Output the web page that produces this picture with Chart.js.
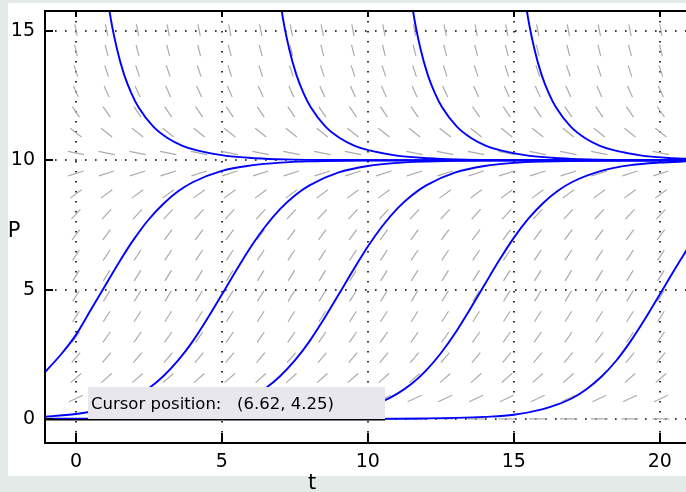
<!DOCTYPE html>
<html><head><meta charset="utf-8">
<script src="https://cdn.jsdelivr.net/npm/chart.js@4.4.1/dist/chart.umd.min.js"></script>
<style>
html,body{margin:0;padding:0;background:#e3eae8;overflow:hidden}
#wrap{position:relative;width:686px;height:492px}
canvas{display:block}
</style></head><body>
<div id="wrap"><canvas id="c" width="686" height="492"></canvas></div>
<script>
// ---- data ----
const xTicks = [0, 5, 10, 15, 20];
const yTicks = [0, 5, 10, 15];
const xRange = [-1.06, 20.9];
const yRange = [-0.93, 15.77];
const xLabel = 't';
const yLabel = 'P';
const cursorText = 'Cursor position:';
const cursorValue = '(6.62, 4.25)';

// direction field grid (t columns, P rows) and the slope seen on each row
const fieldT = [0, 1.05, 2.11, 3.16, 4.22, 5.27, 6.33, 7.38, 8.44, 9.49, 10.55, 11.6, 12.65, 13.71, 14.76, 15.82, 16.87, 17.93, 18.98, 20.04];
const fieldP = [0, 0.79, 1.58, 2.37, 3.16, 3.96, 4.75, 5.54, 6.33, 7.12, 7.91, 8.7, 9.49, 10.28, 11.07, 11.87, 12.66, 13.45, 14.24, 15.03];
const fieldSlope = [0, 0.54, 0.99, 1.34, 1.6, 1.77, 1.85, 1.83, 1.72, 1.52, 1.22, 0.84, 0.36, -0.22, -0.88, -1.64, -2.49, -3.43, -4.47, -5.59];

// solution curves [t, P]
const riseA = [[-1.2,1.64],[-0.5,2.51],[0,3.25],[0.5,4.2],[1,5.15],[1.5,6.1],[2,6.97],[2.5,7.72],[3,8.32],[3.5,8.8],[4,9.15],[5,9.59],[6,9.8],[7,9.91],[8,9.957],[10,9.99],[13,10],[21,10]];
const riseB = [[-1.2,0.078],[0,0.19],[1,0.41],[2,0.84],[2.5,1.19],[3,1.66],[3.5,2.26],[4,3.0],[4.5,3.87],[5,4.81],[5.5,5.76],[6,6.67],[6.5,7.46],[7,8.12],[7.5,8.64],[8,9.03],[9,9.53],[10,9.78],[11,9.9],[12,9.95],[14,9.99],[21,10]];
const riseC = [[-1.2,0.004],[2,0.042],[3,0.09],[4,0.19],[5,0.41],[6,0.84],[6.5,1.19],[7,1.66],[7.5,2.26],[8,3.0],[8.5,3.87],[9,4.81],[9.5,5.76],[10,6.67],[10.5,7.46],[11,8.12],[11.5,8.64],[12,9.03],[13,9.53],[14,9.78],[15,9.9],[16,9.95],[18,9.99],[21,10]];
const riseD = [[-1.2,0],[5,0.011],[7,0.05],[8,0.105],[9,0.225],[10,0.47],[10.5,0.68],[11,0.97],[11.5,1.36],[12,1.88],[12.5,2.54],[13,3.33],[13.5,4.24],[14,5.19],[14.5,6.13],[15,7.0],[15.5,7.74],[16,8.34],[16.5,8.81],[17,9.16],[18,9.59],[19,9.81],[20,9.91],[21,9.96]];
const riseE = [[-1.2,0],[10,0.004],[11,0.009],[12,0.02],[13,0.04],[14,0.08],[15,0.16],[16,0.38],[16.5,0.56],[17,0.8],[17.5,1.16],[18,1.63],[18.5,2.24],[19,3.0],[19.5,3.87],[20,4.81],[20.5,5.76],[21,6.67]];
const fallA = [[0.85,18.55],[1.15,15.77],[1.4,14.33],[1.65,13.31],[1.9,12.59],[2.15,12.04],[2.65,11.3],[3.15,10.85],[3.65,10.56],[4.15,10.38],[5.15,10.17],[6.15,10.08],[7.15,10.036],[9.15,10.008],[11.15,10.002],[21,10]];
const fallB = [[6.75,18.55],[7.05,15.77],[7.3,14.33],[7.55,13.31],[7.8,12.59],[8.05,12.04],[8.55,11.3],[9.05,10.85],[9.55,10.56],[10.05,10.38],[11.05,10.17],[12.05,10.08],[13.05,10.036],[15.05,10.008],[17.05,10.002],[21,10]];
const fallC = [[11.25,18.55],[11.55,15.77],[11.8,14.33],[12.05,13.31],[12.3,12.59],[12.55,12.04],[13.05,11.3],[13.55,10.85],[14.05,10.56],[14.55,10.38],[15.55,10.17],[16.55,10.08],[17.55,10.036],[19.55,10.008],[21,10.003]];
const fallD = [[15.15,18.55],[15.45,15.77],[15.7,14.33],[15.95,13.31],[16.2,12.59],[16.45,12.04],[16.95,11.3],[17.45,10.85],[17.95,10.56],[18.45,10.38],[19.45,10.17],[20.45,10.08],[21,10.055]];

// ---- build datasets ----
const curves = [riseA, riseB, riseC, riseD, riseE, fallA, fallB, fallC, fallD];
const DASH_FRAC = 0.0265;
function buildField() {
  const xr = xRange[1] - xRange[0], yr = yRange[1] - yRange[0];
  const pts = [];
  fieldP.forEach((p, j) => {
    const s = fieldSlope[j];
    const fx = 1 / xr, fy = s / yr;
    const n = Math.hypot(fx, fy);
    const ht = (fx / n) * DASH_FRAC / 2 * xr;
    const hp = (fy / n) * DASH_FRAC / 2 * yr;
    fieldT.forEach(t => {
      pts.push({x: t - ht, y: p - hp});
      pts.push({x: t + ht, y: p + hp});
      pts.push({x: t, y: null});
    });
  });
  return pts;
}
const datasets = curves.map(c => ({
  data: c.map(([t, p]) => ({x: t, y: p})),
  borderColor: '#0000ff', borderWidth: 1.9, pointRadius: 0,
  cubicInterpolationMode: 'monotone', fill: false, order: 0
}));
datasets.push({
  data: buildField(), borderColor: '#ababab', borderWidth: 1.2, pointRadius: 0,
  spanGaps: false, tension: 0, fill: false, order: 5
});

const FONT = 'DejaVu Sans';
const decor = {
  id: 'decor',
  beforeDraw(chart) {
    const ctx = chart.ctx;
    ctx.save();
    ctx.fillStyle = '#e3eae8';
    ctx.fillRect(0, 0, chart.width, chart.height);
    ctx.fillStyle = '#ffffff';
    ctx.fillRect(8, 3, chart.width - 8, 473);
    ctx.restore();
  },
  beforeDatasetsDraw(chart) {
    const {ctx, chartArea: a, scales: {x, y}} = chart;
    ctx.save();
    ctx.strokeStyle = '#000';
    ctx.lineWidth = 1.6;
    ctx.setLineDash([1.6, 8.4]);
    xTicks.forEach(v => {
      const px = Math.round(x.getPixelForValue(v));
      ctx.beginPath(); ctx.moveTo(px, a.top); ctx.lineTo(px, a.bottom); ctx.stroke();
    });
    yTicks.forEach(v => {
      const py = Math.round(y.getPixelForValue(v));
      ctx.beginPath(); ctx.moveTo(a.left, py); ctx.lineTo(a.right, py); ctx.stroke();
    });
    ctx.restore();
  },
  afterDatasetsDraw(chart) {
    const {ctx, chartArea: a, scales: {x, y}} = chart;
    ctx.save();
    // cursor box
    const bx0 = 88, bx1 = 385, by0 = 387, by1 = Math.round(y.getPixelForValue(0));
    ctx.fillStyle = '#e9e7ee';
    ctx.fillRect(bx0, by0, bx1 - bx0, by1 - by0);
    ctx.strokeStyle = '#000'; ctx.lineWidth = 1.5;
    ctx.beginPath(); ctx.moveTo(a.left, by1 + 0.75); ctx.lineTo(bx1, by1 + 0.75); ctx.stroke();
    ctx.fillStyle = '#000';
    ctx.font = '16.5px "' + FONT + '"';
    ctx.textBaseline = 'alphabetic';
    ctx.fillText(cursorText, 91, 409);
    ctx.fillText(cursorValue, 237, 409);
    // axes box
    ctx.lineWidth = 2;
    ctx.beginPath();
    ctx.moveTo(a.right + 2, a.top); ctx.lineTo(a.left, a.top); ctx.lineTo(a.left, a.bottom); ctx.lineTo(a.right + 2, a.bottom);
    ctx.stroke();
    // inward ticks
    xTicks.forEach(v => {
      const px = Math.round(x.getPixelForValue(v));
      ctx.beginPath(); ctx.moveTo(px, a.bottom); ctx.lineTo(px, a.bottom - 10); ctx.stroke();
      ctx.beginPath(); ctx.moveTo(px, a.top); ctx.lineTo(px, a.top + 6); ctx.stroke();
    });
    yTicks.forEach(v => {
      const py = Math.round(y.getPixelForValue(v));
      ctx.beginPath(); ctx.moveTo(a.left, py); ctx.lineTo(a.left + 8, py); ctx.stroke();
    });
    // axis titles
    ctx.font = '21px "' + FONT + '"';
    ctx.textAlign = 'center';
    ctx.fillText(yLabel, 14, 237);
    ctx.fillText(xLabel, 312, 489);
    ctx.restore();
  }
};

new Chart(document.getElementById('c'), {
  type: 'line',
  data: {datasets},
  options: {
    responsive: false, animation: false, events: [],
    layout: {padding: {top: 11, left: 0, right: 0, bottom: 0}},
    plugins: {legend: {display: false}, tooltip: {enabled: false}},
    scales: {
      x: {
        type: 'linear', min: xRange[0], max: xRange[1],
        afterBuildTicks: s => { s.ticks = xTicks.map(v => ({value: v})); },
        afterFit: s => { s.height = 49; s.paddingLeft = 0; s.paddingRight = 0; s.paddingTop = 0; s.paddingBottom = 0; },
        grid: {display: false, drawTicks: false}, border: {display: false},
        ticks: {padding: 8, color: '#000', font: {family: FONT, size: 19}, maxRotation: 0}
      },
      y: {
        type: 'linear', min: yRange[0], max: yRange[1],
        afterBuildTicks: s => { s.ticks = yTicks.map(v => ({value: v})); },
        afterFit: s => { s.width = 45; s.paddingLeft = 0; s.paddingRight = 0; s.paddingTop = 0; s.paddingBottom = 0; },
        grid: {display: false, drawTicks: false}, border: {display: false},
        ticks: {padding: 10, color: '#000', font: {family: FONT, size: 19}}
      }
    }
  },
  plugins: [decor]
});
</script>
</body></html>
